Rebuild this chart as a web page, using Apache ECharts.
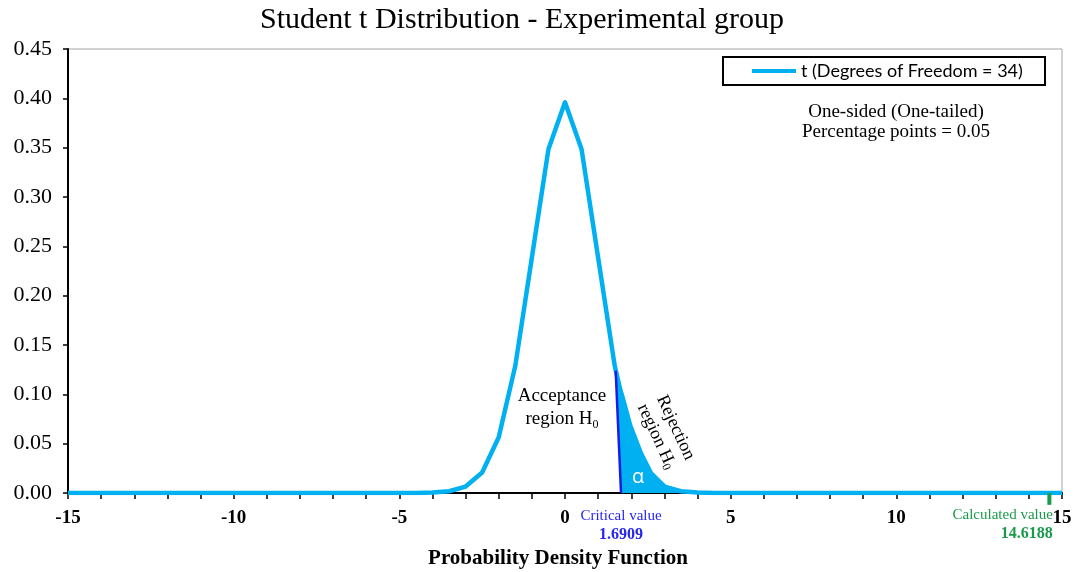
<!DOCTYPE html>
<html>
<head>
<meta charset="utf-8">
<script src="https://cdn.jsdelivr.net/npm/echarts@6/dist/echarts.min.js"></script>
<style>
  html, body { margin: 0; padding: 0; background: #fff; }
  #chart { width: 1078px; height: 572px; }
</style>
</head>
<body>
<div id="chart"></div>
<script>
// t values sampled every 0.5 from -15 to 15
const tPoints = [
  -15, -14.5, -14, -13.5, -13, -12.5, -12, -11.5, -11, -10.5,
  -10, -9.5, -9, -8.5, -8, -7.5, -7, -6.5, -6, -5.5,
  -5, -4.5, -4, -3.5, -3, -2.5, -2, -1.5, -1, -0.5,
  0,
  0.5, 1, 1.5, 2, 2.5, 3, 3.5, 4, 4.5, 5,
  5.5, 6, 6.5, 7, 7.5, 8, 8.5, 9, 9.5, 10,
  10.5, 11, 11.5, 12, 12.5, 13, 13.5, 14, 14.5, 15
];
// probability density of t with 34 degrees of freedom at each t
const density = [
  0, 0, 0, 0, 0, 0, 0, 0, 0, 0,
  0, 0, 0, 0, 0, 0, 0, 0, 0, 0,
  0, 0.0001, 0.0005, 0.0018, 0.0065, 0.0207, 0.0565, 0.1290, 0.2385, 0.3484,
  0.3960,
  0.3484, 0.2385, 0.1290, 0.0565, 0.0207, 0.0065, 0.0018, 0.0005, 0.0001, 0,
  0, 0, 0, 0, 0, 0, 0, 0, 0, 0,
  0, 0, 0, 0, 0, 0, 0, 0, 0, 0
];

const criticalValue = 1.6909;
const calculatedValue = 14.6188;

// boundary line of the rejection region (foot at the critical value)
const criticalLine = [[criticalValue, 0], [1.53, 0.1240]];
// shaded tail area (alpha) to the right of the critical value
const rejectionArea = [
  [criticalValue, 0], [1.53, 0.1240], [1.79, 0.0990], [2.04, 0.0685],
  [2.35, 0.0415], [2.65, 0.0215], [3.05, 0.0082], [3.54, 0.0025],
  [4.05, 0.0008], [4.6, 0]
];
// short marker below the axis at the calculated statistic
const calculatedTick = [[calculatedValue, 0], [calculatedValue, -0.012]];

const seriesName = 't (Degrees of Freedom = 34)';
const CYAN = '#00b0f0';
const BLUE = '#1c1ce6';
const LABEL_BLUE = '#2626f0';
const GREEN = '#1a9b4b';
const SERIF = '"Liberation Serif", "Times New Roman", serif';
const HIDDEN = 'rgba(0,0,0,0)';

const curveData = tPoints.map((t, i) => [t, density[i]]);

// size the legend frame around its text
const legendFontSize = 18;
const ctx = document.createElement('canvas').getContext('2d');
ctx.font = legendFontSize + 'px Lato';
const legendTextW = ctx.measureText(seriesName).width;
const legendPadLeft = 29;
const legendPadRight = Math.max(4, 322 - legendPadLeft - 44 - 5 - legendTextW);

const chart = echarts.init(document.getElementById('chart'), null, { renderer: 'canvas' });

chart.setOption({
  animation: false,
  backgroundColor: '#ffffff',
  grid: {
    left: 68, right: 16, top: 49, bottom: 79,
    outerBoundsMode: 'none', containLabel: false,
    show: true, borderColor: '#a6a6a6', borderWidth: 1, backgroundColor: 'transparent'
  },
  legend: {
    data: [seriesName],
    left: 723, top: 57,
    padding: [5, legendPadRight, 5, legendPadLeft],
    borderColor: '#000', borderWidth: 2,
    icon: 'rect', itemWidth: 44, itemHeight: 4,
    textStyle: { fontFamily: 'Lato', fontSize: legendFontSize, color: '#000' },
    selectedMode: false
  },
  xAxis: {
    type: 'value', min: -15, max: 15, interval: 5,
    name: 'Probability Density Function',
    nameLocation: 'middle', nameGap: 55,
    nameTextStyle: { fontFamily: SERIF, fontSize: 21, fontWeight: 'bold', color: '#000', padding: [0, 14, 0, 0] },
    axisLine: { onZero: false, lineStyle: { color: '#000', width: 2 } },
    axisTick: { show: true, inside: false, length: 6, lineStyle: { color: '#000', width: 1.5 } },
    minorTick: { show: true, splitNumber: 5, length: 6, lineStyle: { color: '#000', width: 1.5 } },
    axisLabel: { fontFamily: SERIF, fontSize: 19, fontWeight: 'bold', color: '#000', margin: 16 },
    splitLine: { show: false }
  },
  yAxis: {
    type: 'value', min: 0, max: 0.45, interval: 0.05,
    axisLine: { show: true, onZero: false, lineStyle: { color: '#000', width: 2 } },
    axisTick: { show: true, inside: false, length: 5, lineStyle: { color: '#000', width: 1.5 } },
    axisLabel: {
      fontFamily: SERIF, fontSize: 22, color: '#000', margin: 16,
      formatter: v => v.toFixed(2)
    },
    splitLine: { show: false }
  },
  series: [
    {
      type: 'line', name: seriesName, data: curveData,
      showSymbol: false, symbol: 'none',
      lineStyle: { color: CYAN, width: 4.5, join: 'round' },
      itemStyle: { color: CYAN }, z: 2, silent: true
    },
    {
      type: 'custom', name: 'alpha', coordinateSystem: 'cartesian2d',
      data: [[0, 0]], silent: true, z: 3,
      renderItem: (params, api) => ({
        type: 'polygon',
        shape: { points: rejectionArea.map(p => api.coord(p)) },
        style: { fill: CYAN }
      })
    },
    {
      type: 'line', name: 'critical', data: criticalLine,
      symbol: 'none', lineStyle: { color: BLUE, width: 2.5 }, z: 4, silent: true
    },
    {
      type: 'line', name: 'calculated', data: calculatedTick, clip: false,
      symbol: 'none', lineStyle: { color: GREEN, width: 4 }, z: 4, silent: true
    },
    {
      type: 'scatter', name: 'criticalLabel', data: [[criticalValue, 0]],
      symbolSize: 1, itemStyle: { color: HIDDEN, opacity: 1 }, silent: true, clip: false, z: 5,
      label: {
        show: true, position: 'bottom', distance: 13, align: 'center',
        formatter: p => '{a|Critical value}\n{b|' + p.value[0].toFixed(4) + '}',
        rich: {
          a: { fontFamily: SERIF, fontSize: 15, color: LABEL_BLUE, lineHeight: 19, align: 'center' },
          b: { fontFamily: SERIF, fontSize: 16, fontWeight: 'bold', color: LABEL_BLUE, lineHeight: 19, align: 'center' }
        }
      }
    },
    {
      type: 'scatter', name: 'calculatedLabel', data: [[calculatedValue, 0]],
      symbolSize: 1, itemStyle: { color: HIDDEN, opacity: 1 }, silent: true, clip: false, z: 5,
      label: {
        show: true, position: [4, 14], align: 'right', verticalAlign: 'top',
        formatter: p => '{a|Calculated value}\n{b|' + p.value[0].toFixed(4) + '}',
        rich: {
          a: { fontFamily: SERIF, fontSize: 15, color: GREEN, lineHeight: 18, align: 'right' },
          b: { fontFamily: SERIF, fontSize: 16, fontWeight: 'bold', color: GREEN, lineHeight: 18, align: 'right' }
        }
      }
    }
  ],
  graphic: [
    {
      type: 'text', x: 522, y: 20,
      style: {
        text: 'Student t Distribution - Experimental group',
        fontFamily: SERIF, fontSize: 30, fill: '#000',
        textAlign: 'center', textVerticalAlign: 'middle'
      }
    },
    {
      type: 'text', x: 896, y: 122,
      style: {
        text: 'One-sided (One-tailed)\nPercentage points = 0.05',
        fontFamily: SERIF, fontSize: 19, fill: '#000', lineHeight: 20,
        textAlign: 'center', textVerticalAlign: 'middle'
      }
    },
    {
      type: 'text', x: 562, y: 408,
      style: {
        text: 'Acceptance\nregion H{s|0}',
        fontFamily: SERIF, fontSize: 19, fill: '#000', lineHeight: 23,
        textAlign: 'center', textVerticalAlign: 'middle',
        rich: { s: { fontFamily: SERIF, fontSize: 12, fill: '#000', verticalAlign: 'bottom', lineHeight: 23 } }
      }
    },
    {
      type: 'text', x: 666, y: 432, rotation: -65 * Math.PI / 180,
      style: {
        text: 'Rejection\nregion H{s|0}',
        fontFamily: SERIF, fontSize: 18, fill: '#000', lineHeight: 21,
        textAlign: 'center', textVerticalAlign: 'middle',
        rich: { s: { fontFamily: SERIF, fontSize: 12, fill: '#000', verticalAlign: 'bottom', lineHeight: 21 } }
      }
    },
    {
      type: 'text', x: 638, y: 477, z: 100,
      style: {
        text: 'α', fontFamily: '"Open Sans", "Noto Sans", sans-serif', fontSize: 20, fill: '#fff',
        textAlign: 'center', textVerticalAlign: 'middle'
      }
    }
  ]
});
</script>
</body>
</html>
